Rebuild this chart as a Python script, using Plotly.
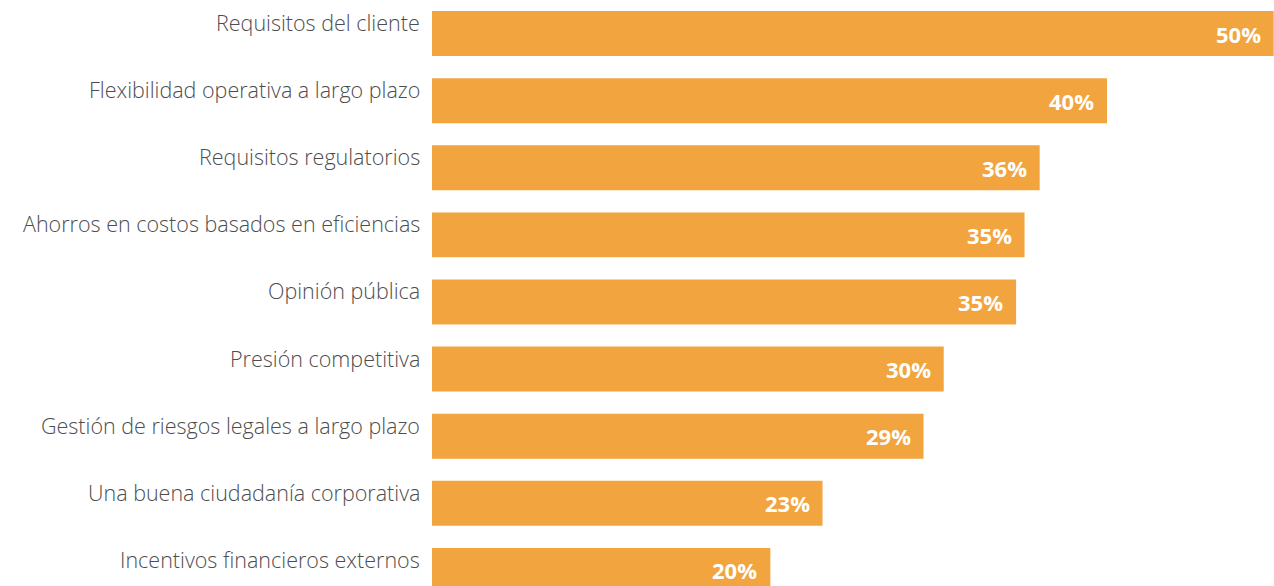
import plotly.graph_objects as go

categories = [
    "Requisitos del cliente",
    "Flexibilidad operativa a largo plazo",
    "Requisitos regulatorios",
    "Ahorros en costos basados en eficiencias",
    "Opinión pública",
    "Presión competitiva",
    "Gestión de riesgos legales a largo plazo",
    "Una buena ciudadanía corporativa",
    "Incentivos financieros externos",
]
values = [50, 40.1, 36.1, 35.2, 34.7, 30.4, 29.2, 23.2, 20.1]
value_labels = [f"{round(v)}%" for v in values]

BAR_COLOR = "#F2A43E"
LABEL_COLOR = "#4d4d4d"
FONT = "'Open Sans', sans-serif"

fig = go.Figure(
    go.Bar(
        x=values,
        y=categories,
        orientation="h",
        marker=dict(color=BAR_COLOR, line=dict(width=0)),
        hoverinfo="skip",
    )
)

annotations = []
for cat, v, lab in zip(categories, values, value_labels):
    annotations.append(dict(
        x=0, xref="paper", y=cat, yref="y",
        text=cat, showarrow=False, xanchor="right", yanchor="middle",
        xshift=-10, yshift=11,
        font=dict(family=FONT, size=21.5, color=LABEL_COLOR, weight=300),
    ))
    annotations.append(dict(
        x=v, xref="x", y=cat, yref="y",
        text=lab, showarrow=False, xanchor="right", yanchor="middle",
        xshift=-11, yshift=0,
        font=dict(family=FONT, size=22, color="white", weight="bold"),
    ))

fig.update_layout(
    width=1274, height=586,
    margin=dict(l=432, r=0, t=0, b=0),
    paper_bgcolor="white", plot_bgcolor="white",
    bargap=0.33,
    showlegend=False,
    annotations=annotations,
    xaxis=dict(range=[0, 50.02], visible=False, fixedrange=True),
    yaxis=dict(
        type="category", categoryorder="array", categoryarray=categories,
        range=[8.233, -0.5], showticklabels=False, showgrid=False,
        zeroline=False, showline=False, ticks="", fixedrange=True,
    ),
)

fig.write_html("out.html", config={"displayModeBar": False})
